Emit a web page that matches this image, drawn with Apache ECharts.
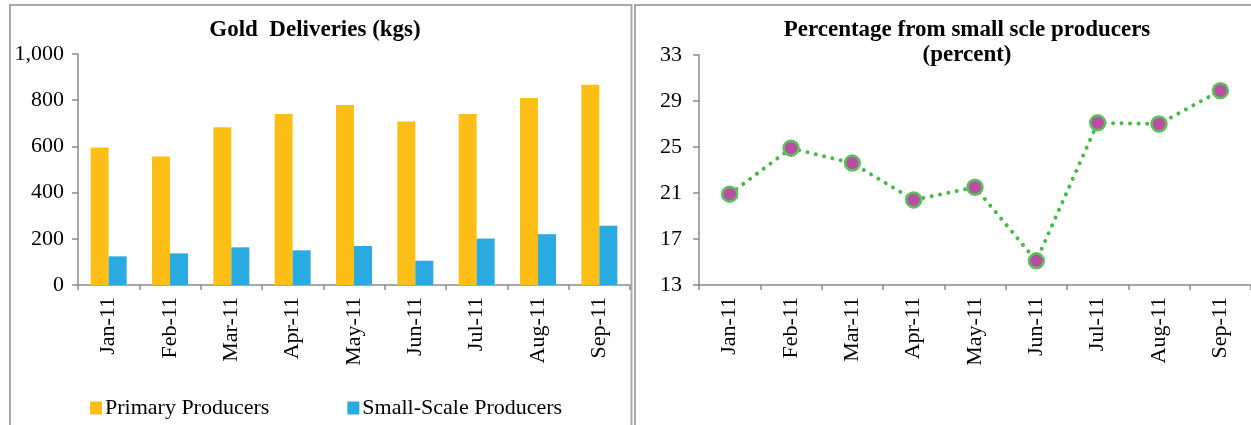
<!DOCTYPE html>
<html>
<head>
<meta charset="utf-8">
<title>Gold Deliveries</title>
<script src="https://cdn.jsdelivr.net/npm/echarts@6/dist/echarts.min.js"></script>
<style>
  html, body { margin: 0; padding: 0; background: #ffffff; }
  #chart { width: 1251px; height: 425px; }
</style>
</head>
<body>
<div id="chart"></div>
<script>
// Monthly categories shared by both panels
const months = ['Jan-11', 'Feb-11', 'Mar-11', 'Apr-11', 'May-11', 'Jun-11', 'Jul-11', 'Aug-11', 'Sep-11'];

// Gold deliveries in kilograms
const primaryProducers = [595, 556, 683, 740, 779, 708, 740, 809, 867];
const smallScaleProducers = [124, 137, 163, 150, 169, 105, 201, 220, 257];

// Share delivered by small-scale producers, percent
const smallSharePercent = [20.9, 24.9, 23.6, 20.4, 21.5, 15.1, 27.1, 27.0, 29.9];

// Tick values for each value axis
const kgTicks = [0, 200, 400, 600, 800, 1000];
const percentTicks = [13, 17, 21, 25, 29, 33];

const FONT = '"Liberation Serif", "DejaVu Serif", serif';
const AXIS_GREY = '#8a8a8a';
const PANEL_GREY = '#a8a8a8';

const axisText = { color: '#000', fontFamily: FONT, fontSize: 22 };

function categoryAxis(gridIndex) {
  return {
    type: 'category',
    gridIndex,
    data: months,
    boundaryGap: true,
    axisLine: { lineStyle: { color: AXIS_GREY, width: 1.5 } },
    axisTick: { show: true, length: 5, inside: false, alignWithLabel: false, lineStyle: { color: AXIS_GREY, width: 1.5 } },
    axisLabel: Object.assign({ rotate: 90, margin: 12, interval: 0 }, axisText),
    splitLine: { show: false }
  };
}

function valueAxis(gridIndex, min, max, ticks, formatter, margin) {
  return {
    type: 'value',
    gridIndex,
    min,
    max,
    axisLine: { show: true, lineStyle: { color: AXIS_GREY, width: 1.5 } },
    axisTick: { show: true, length: 6, customValues: ticks, lineStyle: { color: AXIS_GREY, width: 1.5 } },
    axisLabel: Object.assign({ customValues: ticks, formatter, margin }, axisText),
    splitLine: { show: false }
  };
}

const chart = echarts.init(document.getElementById('chart'), null, { renderer: 'canvas' });

chart.setOption({
  backgroundColor: '#ffffff',
  animation: false,
  graphic: [
    // panel frames
    { type: 'rect', shape: { x: 10, y: 5, width: 621.5, height: 480 }, style: { fill: 'none', stroke: PANEL_GREY, lineWidth: 2 }, z: 0 },
    { type: 'rect', shape: { x: 635, y: 5, width: 640, height: 480 }, style: { fill: 'none', stroke: PANEL_GREY, lineWidth: 2 }, z: 0 }
  ],
  title: [
    {
      text: 'Gold  Deliveries (kgs)',
      left: 310,
      top: 14,
      textAlign: 'center',
      textStyle: { fontFamily: FONT, fontSize: 23, fontWeight: 'bold', color: '#000' }
    },
    {
      text: 'Percentage from small scle producers\n(percent)',
      left: 962,
      top: 13,
      textAlign: 'center',
      textStyle: { fontFamily: FONT, fontSize: 23, fontWeight: 'bold', color: '#000', lineHeight: 25 }
    }
  ],
  legend: {
    left: 85,
    top: 392,
    icon: 'rect',
    itemWidth: 12,
    itemHeight: 13,
    itemGap: 78,
    data: ['Primary Producers', 'Small-Scale Producers'],
    textStyle: { fontFamily: FONT, fontSize: 22, color: '#000', padding: [0, 0, 0, -2] }
  },
  grid: [
    { left: 78, top: 54, width: 552, height: 231, containLabel: false },
    { left: 699, top: 55, width: 556, height: 230, containLabel: false }
  ],
  xAxis: [categoryAxis(0), categoryAxis(1)],
  yAxis: [
    valueAxis(0, 0, 1000, kgTicks, v => v.toLocaleString('en-US'), 14),
    valueAxis(1, 13, 33, percentTicks, v => String(v), 17)
  ],
  series: [
    {
      name: 'Primary Producers',
      type: 'bar',
      xAxisIndex: 0,
      yAxisIndex: 0,
      data: primaryProducers,
      barWidth: 18,
      barGap: '0%',
      itemStyle: { color: '#FDBE16' }
    },
    {
      name: 'Small-Scale Producers',
      type: 'bar',
      xAxisIndex: 0,
      yAxisIndex: 0,
      data: smallScaleProducers,
      barWidth: 18,
      itemStyle: { color: '#29ABE2' }
    },
    {
      name: 'Percentage from small scale producers',
      type: 'line',
      xAxisIndex: 1,
      yAxisIndex: 1,
      data: smallSharePercent,
      symbol: 'circle',
      symbolSize: 15,
      itemStyle: { color: '#B94FA2', borderColor: '#5CC35C', borderWidth: 2.5 },
      lineStyle: { color: '#44BB44', width: 4, type: [0.01, 8.5], cap: 'round' }
    }
  ]
});
</script>
</body>
</html>
